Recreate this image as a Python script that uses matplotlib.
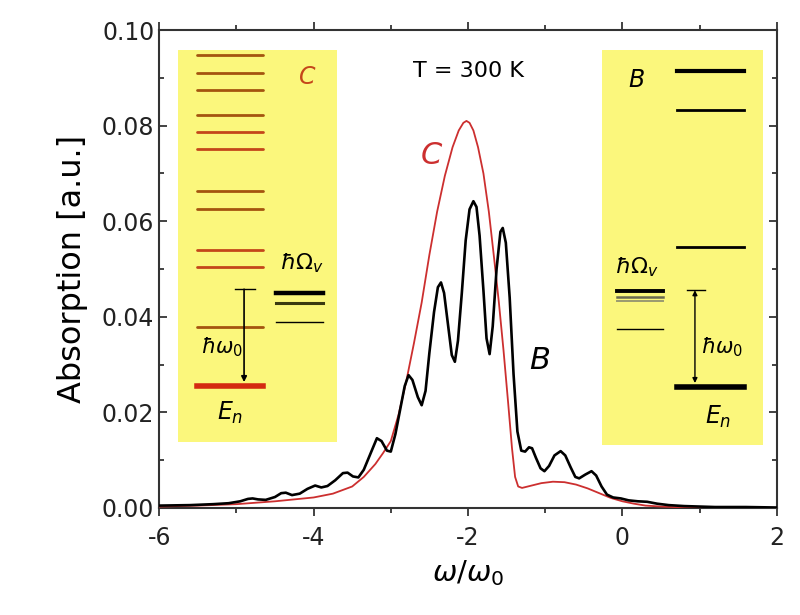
import matplotlib
matplotlib.use("Agg")
from matplotlib import pyplot as plt
from matplotlib.ticker import MultipleLocator

plt.rcParams["font.family"] = ["DejaVu Sans"]
plt.rcParams["mathtext.fontset"] = "dejavusans"
plt.rcParams["axes.unicode_minus"] = False

# curve C (red)
c_x = [-6.0, -5.5, -5.0, -4.5, -4.0, -3.75, -3.5, -3.35, -3.2, -3.1, -3.0, -2.9,
       -2.8, -2.7, -2.6, -2.5, -2.4, -2.3, -2.2, -2.12, -2.06, -2.02, -1.98, -1.93,
       -1.87, -1.8, -1.73, -1.66, -1.6, -1.54, -1.48, -1.43, -1.39, -1.35, -1.3,
       -1.2, -1.05, -0.9, -0.75, -0.6, -0.45, -0.3, -0.15, 0.0, 0.15, 0.3, 0.5,
       0.8, 1.2, 2.0]
c_y = [0.0003, 0.0005, 0.0008, 0.0014, 0.0022, 0.0030, 0.0045, 0.0065, 0.0092, 0.0115,
       0.0140, 0.0195, 0.0265, 0.0345, 0.0430, 0.0530, 0.0620, 0.0695, 0.0755, 0.0790,
       0.0806, 0.0810, 0.0806, 0.0790, 0.0755, 0.0700, 0.0620, 0.0520, 0.0430, 0.0330,
       0.0220, 0.0125, 0.0065, 0.0045, 0.0042, 0.0046, 0.0052, 0.0055, 0.0054, 0.0049,
       0.0041, 0.0031, 0.0021, 0.0014, 0.0009, 0.0005, 0.0003, 0.0001, 0.0, 0.0]

# curve B (black)
b_x = [-6.0, -5.6, -5.3, -5.1, -4.95, -4.85, -4.79, -4.72, -4.62, -4.5, -4.42, -4.36,
       -4.28, -4.18, -4.08, -3.98, -3.90, -3.82, -3.72, -3.62, -3.56, -3.49, -3.42,
       -3.35, -3.26, -3.18, -3.12, -3.05, -3.00, -2.94, -2.88, -2.82, -2.77, -2.72,
       -2.65, -2.60, -2.55, -2.50, -2.44, -2.39, -2.35, -2.31, -2.26, -2.21, -2.17,
       -2.13, -2.08, -2.03, -1.98, -1.93, -1.89, -1.85, -1.80, -1.76, -1.72, -1.68,
       -1.63, -1.58, -1.55, -1.51, -1.46, -1.41, -1.36, -1.31, -1.26, -1.21, -1.17,
       -1.12, -1.06, -1.01, -0.95, -0.88, -0.80, -0.74, -0.67, -0.61, -0.56, -0.48,
       -0.40, -0.34, -0.27, -0.20, -0.12, -0.02, 0.08, 0.2, 0.32, 0.45, 0.6, 0.8,
       1.2, 1.6, 2.0]
b_y = [0.0005, 0.0006, 0.0008, 0.0010, 0.0014, 0.0019, 0.0020, 0.0018, 0.0017, 0.0023,
       0.0031, 0.0032, 0.0027, 0.0030, 0.0040, 0.0047, 0.0043, 0.0046, 0.0058, 0.0073,
       0.0074, 0.0066, 0.0064, 0.0080, 0.0115, 0.0146, 0.0140, 0.0120, 0.0118, 0.0155,
       0.0205, 0.0255, 0.0278, 0.0268, 0.0232, 0.0215, 0.0245, 0.0325, 0.0410, 0.0462,
       0.0472, 0.0450, 0.0385, 0.0320, 0.0306, 0.0350, 0.0450, 0.0560, 0.0625, 0.0642,
       0.0630, 0.0570, 0.0455, 0.0355, 0.0322, 0.0380, 0.0500, 0.0578, 0.0586, 0.0555,
       0.0440, 0.0280, 0.0160, 0.0120, 0.0118, 0.0127, 0.0125, 0.0105, 0.0083, 0.0077,
       0.0088, 0.0110, 0.0119, 0.0110, 0.0085, 0.0065, 0.0062, 0.0070, 0.0077, 0.0068,
       0.0045, 0.0028, 0.0022, 0.0020, 0.0016, 0.0014, 0.0013, 0.0009, 0.0006, 0.0004,
       0.0002, 0.0002, 0.0001]

x_ticks = [-6, -4, -2, 0, 2]
y_ticks = [0.00, 0.02, 0.04, 0.06, 0.08, 0.10]

# level diagrams (fractions of inset height)
c_levels = [0.987, 0.942, 0.898, 0.834, 0.792, 0.749, 0.640, 0.596, 0.490, 0.446, 0.294]
c_level_colors = ["#a4540f", "#a4540f", "#a4540f", "#a4540f", "#c4461a", "#c4461a",
                  "#a4540f", "#a4540f", "#c4461a", "#c4461a", "#a4540f"]
c_ground = 0.143
c_vib = [0.380, 0.355, 0.306]
b_levels = [0.948, 0.848, 0.501]
b_level_widths = [3.0, 2.0, 2.0]
b_ground = 0.147
b_vib = [0.390, 0.375, 0.365, 0.294]

YELLOW = "#fbf77c"
RED = "#cc2f2f"

fig = plt.figure(figsize=(8.0, 6.15), dpi=100)
ax = fig.add_axes([0.199, 0.174, 0.772, 0.777])

ax.plot(c_x, c_y, color=RED, lw=1.3, zorder=3, solid_joinstyle="round")
ax.plot(b_x, b_y, color="black", lw=1.9, zorder=4, solid_joinstyle="round")

ax.set_xlim(-6, 2)
ax.set_ylim(0, 0.10)
ax.set_xticks(x_ticks)
ax.set_yticks(y_ticks)
ax.set_yticklabels(["%.2f" % v for v in y_ticks])
ax.xaxis.set_minor_locator(MultipleLocator(1))
ax.yaxis.set_minor_locator(MultipleLocator(0.01))
ax.tick_params(which="both", direction="in", top=True, right=True, width=1.2,
               labelsize=17, colors="#222222")
ax.tick_params(axis="x", which="both", direction="out", pad=7)
ax.tick_params(which="major", length=6)
ax.tick_params(which="minor", length=3.5)
for s in ax.spines.values():
    s.set_linewidth(1.5)
    s.set_color("#333333")

ax.set_ylabel("Absorption [a.u.]", fontsize=23, labelpad=10)
ax.set_xlabel(r"$\omega/\omega_0$", fontsize=21, labelpad=6)

ax.text(-2.0, 0.0915, "T = 300 K", fontsize=16, ha="center", va="center")
ax.text(-2.47, 0.0738, "C", color=RED, fontsize=22, style="italic",
        ha="center", va="center")
ax.text(-1.07, 0.0308, "B", color="black", fontsize=22, style="italic",
        ha="center", va="center")

# left inset: C levels
ia = fig.add_axes([0.2225, 0.2813, 0.199, 0.637])
ia.set_xlim(0, 1)
ia.set_ylim(0, 1)
ia.axis("off")
ia.add_patch(plt.Rectangle((0, 0), 1, 1, color=YELLOW, zorder=0))
for lv, col in zip(c_levels, c_level_colors):
    ia.plot([0.119, 0.535], [lv, lv], color=col, lw=2.0, solid_capstyle="round")
ia.plot([0.119, 0.535], [c_ground, c_ground], color="#d42a10", lw=4.0)
ia.plot([0.616, 0.912], [c_vib[0], c_vib[0]], color="black", lw=3.2)
ia.plot([0.616, 0.912], [c_vib[1], c_vib[1]], color="#3a3a10", lw=2.2)
ia.plot([0.616, 0.912], [c_vib[2], c_vib[2]], color="black", lw=1.0)
ia.plot([0.358, 0.484], [0.390, 0.390], color="black", lw=1.0)
ia.annotate("", xy=(0.415, c_ground + 0.01), xytext=(0.415, 0.390),
            arrowprops=dict(arrowstyle="-|>", color="black", lw=1.2,
                            mutation_scale=8, shrinkA=0, shrinkB=0))
ia.text(0.28, 0.242, r"$\hbar\omega_0$", fontsize=15, ha="center", va="center")
ia.text(0.33, 0.074, r"$E_n$", fontsize=17, ha="center", va="center")
ia.text(0.78, 0.457, r"$\hbar\Omega_v$", fontsize=16, ha="center", va="center")
ia.text(0.81, 0.931, "C", color="#c4461a", fontsize=17, style="italic",
        ha="center", va="center")

# right inset: B levels
ib = fig.add_axes([0.7525, 0.2764, 0.201, 0.642])
ib.set_xlim(0, 1)
ib.set_ylim(0, 1)
ib.axis("off")
ib.add_patch(plt.Rectangle((0, 0), 1, 1, color=YELLOW, zorder=0))
for lv, w in zip(b_levels, b_level_widths):
    ib.plot([0.466, 0.882], [lv, lv], color="black", lw=w)
ib.plot([0.466, 0.882], [b_ground, b_ground], color="black", lw=4.0)
ib.plot([0.093, 0.379], [b_vib[0], b_vib[0]], color="black", lw=2.8)
ib.plot([0.093, 0.379], [b_vib[1], b_vib[1]], color="#6a6a50", lw=1.8)
ib.plot([0.093, 0.379], [b_vib[2], b_vib[2]], color="#9a9a70", lw=1.4)
ib.plot([0.093, 0.379], [b_vib[3], b_vib[3]], color="black", lw=1.0)
ib.plot([0.528, 0.640], [0.392, 0.392], color="black", lw=1.0)
ib.annotate("", xy=(0.578, b_ground + 0.01), xytext=(0.578, 0.392),
            arrowprops=dict(arrowstyle="<|-|>", color="black", lw=1.0,
                            mutation_scale=7, shrinkA=0, shrinkB=0))
ib.text(0.745, 0.248, r"$\hbar\omega_0$", fontsize=15, ha="center", va="center")
ib.text(0.72, 0.071, r"$E_n$", fontsize=17, ha="center", va="center")
ib.text(0.217, 0.451, r"$\hbar\Omega_v$", fontsize=16, ha="center", va="center")
ib.text(0.217, 0.924, "B", color="black", fontsize=17, style="italic",
        ha="center", va="center")

fig.savefig("out.png", dpi=100)
